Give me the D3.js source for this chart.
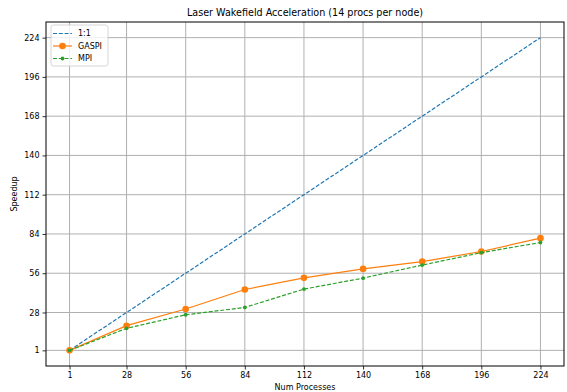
<!DOCTYPE html>
<html>
<head>
<meta charset="utf-8">
<script src="https://cdn.jsdelivr.net/npm/d3@7"></script>
<style>
  body { margin: 0; background: #ffffff; }
  svg { display: block; font-family: "DejaVu Sans", sans-serif; }
</style>
</head>
<body>
<svg id="chart" width="567" height="392"></svg>
<script>
const processes = [1, 28, 56, 84, 112, 140, 168, 196, 224];
const idealSpeedup = [1, 28, 56, 84, 112, 140, 168, 196, 224];
const gaspiSpeedup = [1, 18.6, 30.5, 44.4, 52.7, 59.1, 64.3, 71.5, 81];
const mpiSpeedup = [1, 16.7, 26.4, 31.6, 44.7, 52.5, 61.8, 70.7, 77.9];
const xTicks = [1, 28, 56, 84, 112, 140, 168, 196, 224];
const yTicks = [1, 28, 56, 84, 112, 140, 168, 196, 224];

const margin = { top: 22, right: 3, bottom: 26, left: 46 };
const W = 567, H = 392;

const svg = d3.select("#chart");
const pad = (224 - 1) * 0.05;
const x = d3.scaleLinear().domain([1 - pad, 224 + pad]).range([margin.left, W - margin.right]);
const y = d3.scaleLinear().domain([1 - pad, 224 + pad]).range([H - margin.bottom, margin.top]);

// grid
svg.append("g").selectAll("line").data(xTicks).join("line")
  .attr("x1", d => x(d)).attr("x2", d => x(d))
  .attr("y1", margin.top).attr("y2", H - margin.bottom)
  .attr("stroke", "#b0b0b0").attr("stroke-width", 1);
svg.append("g").selectAll("line").data(yTicks).join("line")
  .attr("y1", d => y(d)).attr("y2", d => y(d))
  .attr("x1", margin.left).attr("x2", W - margin.right)
  .attr("stroke", "#b0b0b0").attr("stroke-width", 1);

// axes
const xAxis = svg.append("g")
  .attr("transform", "translate(0," + (H - margin.bottom) + ")")
  .call(d3.axisBottom(x).tickValues(xTicks).tickSize(3.5).tickPadding(3));
const yAxis = svg.append("g")
  .attr("transform", "translate(" + margin.left + ",0)")
  .call(d3.axisLeft(y).tickValues(yTicks).tickSize(3.5).tickPadding(3));
[xAxis, yAxis].forEach(a => {
  a.select(".domain").remove();
  a.selectAll("text").attr("font-size", 8).attr("fill", "#000").attr("font-family", "DejaVu Sans");
  a.selectAll("line").attr("stroke", "#000").attr("stroke-width", 0.8);
});

// frame
svg.append("rect")
  .attr("x", margin.left).attr("y", margin.top)
  .attr("width", W - margin.left - margin.right)
  .attr("height", H - margin.top - margin.bottom)
  .attr("fill", "none").attr("stroke", "#000").attr("stroke-width", 1);

const series = [
  { name: "1:1", values: idealSpeedup, color: "#1f77b4", dash: "4,1.8", r: 0 },
  { name: "GASPI", values: gaspiSpeedup, color: "#ff7f0e", dash: null, r: 3.3 },
  { name: "MPI", values: mpiSpeedup, color: "#2ca02c", dash: "4,1.8", r: 1.9 }
];

const line = d3.line().x(d => x(d[0])).y(d => y(d[1]));

series.forEach(s => {
  const pts = processes.map((p, i) => [p, s.values[i]]);
  svg.append("path").datum(pts)
    .attr("d", line).attr("fill", "none")
    .attr("stroke", s.color).attr("stroke-width", 1.2)
    .attr("stroke-dasharray", s.dash);
  if (s.r > 0) {
    svg.append("g").selectAll("circle").data(pts).join("circle")
      .attr("cx", d => x(d[0])).attr("cy", d => y(d[1]))
      .attr("r", s.r).attr("fill", s.color);
  }
});

// title and labels
svg.append("text").attr("x", (margin.left + W - margin.right) / 2).attr("y", 16)
  .attr("text-anchor", "middle").attr("font-size", 9.6).text("Laser Wakefield Acceleration (14 procs per node)");
svg.append("text").attr("x", (margin.left + W - margin.right) / 2).attr("y", 390)
  .attr("text-anchor", "middle").attr("font-size", 8).text("Num Processes");
svg.append("text")
  .attr("transform", "translate(17," + ((margin.top + H - margin.bottom) / 2) + ") rotate(-90)")
  .attr("text-anchor", "middle").attr("font-size", 8).text("Speedup");

// legend
const lg = svg.append("g").attr("transform", "translate(51,25)");
lg.append("rect").attr("width", 57).attr("height", 41).attr("rx", 2.5)
  .attr("fill", "#fff").attr("fill-opacity", 0.8).attr("stroke", "#cccccc").attr("stroke-width", 0.8);
series.forEach((s, i) => {
  const yy = 8.5 + i * 12.5;
  lg.append("line").attr("x1", 2).attr("x2", 21).attr("y1", yy).attr("y2", yy)
    .attr("stroke", s.color).attr("stroke-width", 1.2).attr("stroke-dasharray", s.dash);
  if (s.r > 0) lg.append("circle").attr("cx", 11.5).attr("cy", yy).attr("r", s.r).attr("fill", s.color);
  lg.append("text").attr("x", 27).attr("y", yy + 2.9).attr("font-size", 8).text(s.name);
});
</script>
</body>
</html>
